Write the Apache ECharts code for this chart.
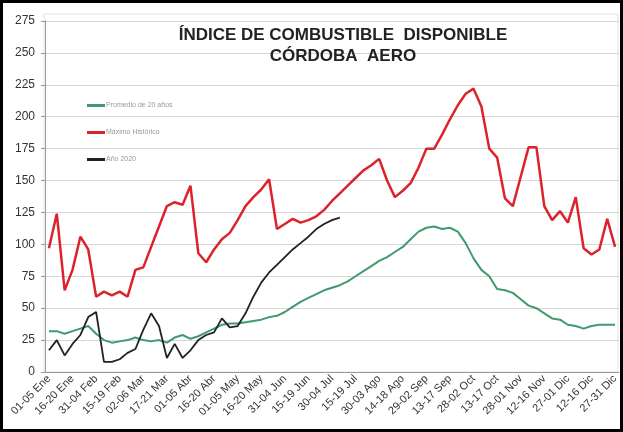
<!DOCTYPE html>
<html>
<head>
<meta charset="utf-8">
<script src="https://cdn.jsdelivr.net/npm/echarts@6/dist/echarts.min.js"></script>
<style>
  body { margin: 0; background: #fff; }
  #wrap { position: relative; width: 623px; height: 432px; }
  #main { width: 623px; height: 432px; }
  #frame { position: absolute; left: 0; top: 0; width: 623px; height: 432px; box-sizing: border-box; border: 3px solid #000; pointer-events: none; }
</style>
</head>
<body>
<div id="wrap">
  <div id="main"></div>
  <div id="frame"></div>
</div>
<script>
// pentadas del año
var pentadas = [
  "01-05 Ene", "06-10 Ene", "11-15 Ene", "16-20 Ene", "21-25 Ene", "26-30 Ene",
  "31-04 Feb", "05-09 Feb", "10-14 Feb", "15-19 Feb", "20-24 Feb", "25-01 Mar",
  "02-06 Mar", "07-11 Mar", "12-16 Mar", "17-21 Mar", "22-26 Mar", "27-31 Mar",
  "01-05 Abr", "06-10 Abr", "11-15 Abr", "16-20 Abr", "21-25 Abr", "26-30 Abr",
  "01-05 May", "06-10 May", "11-15 May", "16-20 May", "21-25 May", "26-30 May",
  "31-04 Jun", "05-09 Jun", "10-14 Jun", "15-19 Jun", "20-24 Jun", "25-29 Jun",
  "30-04 Jul", "05-09 Jul", "10-14 Jul", "15-19 Jul", "20-24 Jul", "25-29 Jul",
  "30-03 Ago", "04-08 Ago", "09-13 Ago", "14-18 Ago", "19-23 Ago", "24-28 Ago",
  "29-02 Sep", "03-07 Sep", "08-12 Sep", "13-17 Sep", "18-22 Sep", "23-27 Sep",
  "28-02 Oct", "03-07 Oct", "08-12 Oct", "13-17 Oct", "18-22 Oct", "23-27 Oct",
  "28-01 Nov", "02-06 Nov", "07-11 Nov", "12-16 Nov", "17-21 Nov", "22-26 Nov",
  "27-01 Dic", "02-06 Dic", "07-11 Dic", "12-16 Dic", "17-21 Dic", "22-26 Dic",
  "27-31 Dic"
];

// Promedio de 20 años
var promedio = [
  32, 32, 30, 32, 34, 36, 30, 25, 23, 24, 25, 27,
  25, 24, 25, 23, 27, 29, 26, 28, 31, 34, 37, 38,
  38, 39, 40, 41, 43, 44, 47, 51, 55, 58, 61, 64,
  66, 68, 71, 75, 79, 83, 87, 90, 94, 98, 104, 110,
  113, 114, 112, 113, 110, 101, 89, 80, 75, 65, 64, 62,
  57, 52, 50, 46, 42, 41, 37, 36, 34, 36, 37, 37,
  37
];

// Máximo Histórico
var maximo = [
  97, 124, 64, 80, 106, 96, 59, 63, 60, 63, 59, 80,
  82, 98, 114, 130, 133, 131, 146, 93, 86, 96, 104, 109,
  119, 130, 137, 143, 151, 112, 116, 120, 117, 119, 122, 127,
  134, 140, 146, 152, 158, 162, 167, 150, 137, 142, 148, 160,
  175, 175, 186, 198, 209, 218, 222, 208, 175, 168, 136, 130,
  153, 176, 176, 130, 119, 126, 117, 137, 97, 92, 96, 120,
  98
];

// Año 2020 (hasta principios de julio)
var anio2020 = [
  17, 25, 13, 22, 29, 43, 47, 8, 8, 10, 15, 18,
  33, 46, 36, 11, 22, 11, 17, 25, 29, 31, 42, 35,
  36, 46, 59, 70, 78, 84, 90, 96, 101, 106, 112, 116,
  119, 121
];

var myChart = echarts.init(document.getElementById("main"));
var fuente = "'Liberation Sans', Arial, sans-serif";

var option = {
  animation: false,
  backgroundColor: "#fff",
  title: {
    text: "ÍNDICE DE COMBUSTIBLE  DISPONIBLE\nCÓRDOBA  AERO",
    left: 338,
    top: 20,
    textAlign: "center",
    textStyle: {
      fontFamily: fuente,
      fontSize: 17,
      fontWeight: "bold",
      color: "#222",
      lineHeight: 21
    }
  },
  legend: {
    orient: "vertical",
    left: 82,
    top: 97,
    itemGap: 20,
    itemWidth: 18,
    itemHeight: 3,
    icon: "rect",
    textStyle: { fontFamily: fuente, fontSize: 7, color: "#999", padding: [0, 0, 0, -4] },
    data: ["Promedio de 20 años", "Máximo Histórico", "Año 2020"]
  },
  grid: { left: 45, right: 4, top: 21, bottom: 60 },
  // marco suave del área de trazado
  graphic: [{
    type: "rect",
    shape: { x: 44, y: 14, width: 574, height: 358 },
    style: { fill: "none", stroke: "#e2e2e2", lineWidth: 1 },
    silent: true,
    z: -1
  }],
  xAxis: {
    type: "category",
    boundaryGap: true,
    data: pentadas,
    axisLine: { lineStyle: { color: "#999", width: 1 } },
    axisTick: { interval: 0, length: 3, lineStyle: { color: "#999" } },
    axisLabel: {
      interval: 2,
      rotate: 45,
      margin: 5,
      fontFamily: fuente,
      fontSize: 11,
      color: "#333"
    },
    splitLine: { show: false }
  },
  yAxis: {
    type: "value",
    min: 0,
    max: 275,
    interval: 25,
    axisLine: { show: true, lineStyle: { color: "#999" } },
    axisTick: { show: true, length: 4, lineStyle: { color: "#999" } },
    axisLabel: { fontFamily: fuente, fontSize: 12, color: "#333", margin: 10 },
    splitLine: { lineStyle: { color: "#d6d6d6", width: 1 } }
  },
  series: [
    {
      name: "Promedio de 20 años",
      type: "line",
      data: promedio,
      symbol: "none",
      color: "#3f9a6e",
      lineStyle: { width: 2, color: "#3f9a6e" },
      z: 2
    },
    {
      name: "Máximo Histórico",
      type: "line",
      data: maximo,
      symbol: "none",
      color: "#dc232b",
      lineStyle: { width: 2.5, color: "#dc232b" },
      z: 3
    },
    {
      name: "Año 2020",
      type: "line",
      data: anio2020,
      symbol: "none",
      color: "#222",
      lineStyle: { width: 1.8, color: "#222" },
      z: 4
    }
  ]
};

myChart.setOption(option);
</script>
</body>
</html>
